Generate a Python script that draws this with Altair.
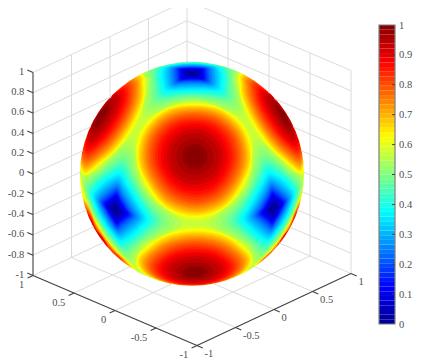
import math
import altair as alt
import pandas as pd

z_ticks = [1, 0.8, 0.6, 0.4, 0.2, 0, -0.2, -0.4, -0.6, -0.8, -1]
z_labels = ["1", "0.8", "0.6", "0.4", "0.2", "0", "-0.2", "-0.4", "-0.6", "-0.8", "-1"]
xy_ticks = [1, 0.5, 0, -0.5, -1]
xy_labels = ["1", "0.5", "0", "-0.5", "-1"]
cb_ticks = [0, 0.1, 0.2, 0.3, 0.4, 0.5, 0.6, 0.7, 0.8, 0.9, 1]
cb_labels = ["0", "0.1", "0.2", "0.3", "0.4", "0.5", "0.6", "0.7", "0.8", "0.9", "1"]

# contour levels around a maximum, and their angular radius (degrees) read off
# the picture toward the saddle, half way, and toward the minimum
peak_levels = [0.58, 0.60, 0.62, 0.64, 0.66, 0.68, 0.70, 0.72, 0.74, 0.76, 0.78, 0.80, 0.82, 0.84, 0.86, 0.88, 0.90, 0.92, 0.94, 0.96, 0.98, 0.99]
peak_r_saddle = [34.2, 33.0, 32.0, 31.2, 30.5, 29.6, 28.8, 27.9, 26.9, 25.9, 24.8, 23.7, 22.4, 21.0, 19.6, 17.9, 16.3, 14.5, 12.3, 9.5, 6.5, 4.5]
peak_r_mid = [32.6, 31.9, 31.2, 30.5, 29.9, 29.1, 28.2, 27.3, 26.4, 25.4, 24.3, 23.2, 22.0, 20.7, 19.4, 17.8, 16.3, 14.5, 12.3, 9.5, 6.5, 4.5]
peak_r_low = [30.9, 30.2, 29.5, 28.9, 28.3, 27.7, 27.0, 26.2, 25.4, 24.5, 23.4, 22.4, 21.2, 20.0, 18.8, 17.5, 16.0, 14.5, 12.3, 9.5, 6.5, 4.5]

# contour levels around a minimum: toward the saddle, half way, toward the maximum
low_levels = [0.55, 0.53, 0.51, 0.49, 0.47, 0.45, 0.43, 0.41, 0.39, 0.37, 0.35, 0.33, 0.31, 0.29, 0.27, 0.25, 0.23, 0.21, 0.19, 0.17, 0.15, 0.13, 0.11, 0.09, 0.07, 0.05, 0.03, 0.015]
low_r_saddle = [38.0, 34.5, 31.5, 29.0, 27.0, 25.5, 24.0, 22.7, 21.4, 20.0, 18.7, 17.5, 16.4, 15.3, 14.2, 13.2, 12.3, 11.5, 10.7, 10.0, 9.3, 8.5, 7.8, 6.9, 6.0, 5.0, 3.7, 2.5]
low_r_mid = [27.0, 25.6, 24.4, 23.2, 22.0, 21.0, 20.0, 19.0, 18.0, 16.9, 15.9, 14.9, 13.9, 12.9, 11.9, 11.0, 10.1, 9.3, 8.5, 7.9, 7.3, 6.7, 6.1, 5.4, 4.8, 4.0, 3.0, 2.0]
low_r_peak = [23.5, 22.6, 21.8, 21.0, 20.2, 19.4, 18.6, 17.8, 17.0, 16.0, 15.0, 14.0, 13.0, 12.0, 11.0, 10.2, 9.4, 8.7, 8.0, 7.4, 6.8, 6.2, 5.6, 5.0, 4.4, 3.6, 2.7, 1.8]
saddle_level = 0.57

peak_signs = [(a, b, c) for a in (1, -1) for b in (1, -1) for c in (1, -1)]
low_axes = [(1, 0, 0), (-1, 0, 0), (0, 1, 0), (0, -1, 0), (0, 0, 1), (0, 0, -1)]

jet_stops = [0, 0.125, 0.375, 0.625, 0.875, 1]
jet_colors = ["#00008f", "#0000ff", "#00ffff", "#ffff00", "#ff0000", "#800000"]

# --- view (page pixels) ------------------------------------------------------
ORIGIN = (192.0, 173.0)
EX, EY, EZ = (-82.0, -35.0), (77.0, -36.0), (0.0, -101.5)
C = (192.0, 173.8)
R = 112.0
k = R / 112.9
NORMAL = (-0.614, -0.653, 0.443)
X0, X1, Y0, Y1 = 8, 420, 8, 360


def box(x, y, z):
    return (ORIGIN[0] + x * EX[0] + y * EY[0] + z * EZ[0],
            ORIGIN[1] + x * EX[1] + y * EY[1] + z * EZ[1])


def dot(a, b):
    return sum(p * q for p, q in zip(a, b))


def unit(a):
    n = math.sqrt(dot(a, a))
    return tuple(p / n for p in a)


def cross(a, b):
    return (a[1] * b[2] - a[2] * b[1], a[2] * b[0] - a[0] * b[2], a[0] * b[1] - a[1] * b[0])


def sphere(q):
    sx = k * (q[0] * EX[0] + q[1] * EY[0] + q[2] * EZ[0])
    sy = k * (q[0] * EX[1] + q[1] * EY[1] + q[2] * EZ[1])
    depth = dot(q, NORMAL)
    if depth < 0:
        n = math.hypot(sx, sy) or 1.0
        sx, sy = sx / n * 125, sy / n * 125
    return C[0] + sx, C[1] + sy, depth


rows = []
pid = [0]


def outline(center, toward, level, r0, r1, r2, step):
    p = unit(center)
    s = unit(toward)
    d = dot(p, s)
    t1 = unit(tuple(a - d * b for a, b in zip(s, p)))
    t2 = cross(p, t1)
    pts = []
    n = int(round(360 / step))
    for i in range(n):
        r = math.radians((r0, r1, r2, r1)[i % 4])
        az = math.radians(i * step)
        q = tuple(math.cos(r) * p[j] + math.sin(r) * (math.cos(az) * t1[j] + math.sin(az) * t2[j]) for j in range(3))
        pts.append(sphere(q))
    if max(q[2] for q in pts) <= 0:
        return
    pid[0] += 1
    for i, q in enumerate(pts):
        rows.append({"pid": pid[0], "i": i, "v": level, "x": q[0], "y": q[1]})


for lev, a, b, c in zip(peak_levels, peak_r_saddle, peak_r_mid, peak_r_low):
    for s in peak_signs:
        outline(s, (s[0], s[1], 0), lev, a, b, c, 30)
for lev, a, b, c in zip(low_levels, low_r_saddle, low_r_mid, low_r_peak):
    for ax in low_axes:
        other = (0, 0, 1) if ax[2] == 0 else (1, 0, 0)
        toward = tuple(p + q for p, q in zip(ax, other))
        outline(ax, toward, lev, a, b, c, 22.5)
surface = pd.DataFrame(rows)

# grid, cut where it goes behind the sphere


def visible(p, q):
    dx, dy = q[0] - p[0], q[1] - p[1]
    fx, fy = p[0] - C[0], p[1] - C[1]
    A = dx * dx + dy * dy
    B = 2 * (fx * dx + fy * dy)
    D = fx * fx + fy * fy - (R - 0.5) ** 2
    disc = B * B - 4 * A * D
    if disc <= 0:
        return [(p, q)]
    s = math.sqrt(disc)
    t1, t2 = (-B - s) / (2 * A), (-B + s) / (2 * A)
    out = []
    if t1 > 0:
        e = min(t1, 1)
        out.append((p, (p[0] + e * dx, p[1] + e * dy)))
    if t2 < 1:
        e = max(t2, 0)
        out.append(((p[0] + e * dx, p[1] + e * dy), q))
    return out


lines3d = []
for z in z_ticks:
    lines3d.append(((1, -1, z), (1, 1, z)))
    lines3d.append(((1, 1, z), (-1, 1, z)))
for t in [0.5, 0, -0.5]:
    lines3d.append(((1, -t, -1), (1, -t, 1)))
    lines3d.append(((t, 1, -1), (t, 1, 1)))
    lines3d.append(((t, -1, -1), (t, 1, -1)))
    lines3d.append(((-1, t, -1), (1, t, -1)))
lines3d.append(((1, 1, -1), (1, 1, 1)))
lines3d.append(((-1, 1, -1), (-1, 1, 1)))

grid_rows = []
for a, b in lines3d:
    for p, q in visible(box(*a), box(*b)):
        grid_rows.append({"x": p[0], "y": p[1], "x2": q[0], "y2": q[1]})
grid = pd.DataFrame(grid_rows)


def seg(p, q):
    return {"x": p[0], "y": p[1], "x2": q[0], "y2": q[1]}


axis_rows = [seg(box(1, -1, -1), box(1, -1, 1)), seg(box(1, -1, -1), box(-1, -1, -1)), seg(box(-1, -1, -1), box(-1, 1, -1))]
label_rows = []
for z, t in zip(z_ticks, z_labels):
    axis_rows.append(seg(box(1, -1, z), box(1.07, -1, z)))
    p = box(1, -1, z)
    label_rows.append({"x": p[0] - 8.7, "y": p[1] - 0.7, "t": t, "a": "r"})
for v, t in zip(xy_ticks, xy_labels):
    axis_rows.append(seg(box(v, -1, -1), box(v, -1.07, -1)))
    axis_rows.append(seg(box(-1, v, -1), box(-1.07, v, -1)))
    p = box(v, -1, -1)
    label_rows.append({"x": p[0] - 8.7, "y": p[1] + 9.5, "t": t, "a": "r"})
    p = box(-1, v, -1)
    label_rows.append({"x": p[0] + 7.5, "y": p[1] + 8, "t": t, "a": "l"})
axes = pd.DataFrame(axis_rows)
labels = pd.DataFrame(label_rows)

# colour bar
CB_L, CB_R, CB_T, CB_B = 379.0, 395.0, 25.0, 324.0


def cb_y(v):
    return CB_B - v * (CB_B - CB_T)


bands = pd.DataFrame([
    {"x": CB_L, "x2": CB_R, "y": cb_y(i / 64), "y2": cb_y((i + 1) / 64), "v": (i + 0.5) / 64}
    for i in range(64)
])
cb_tick = pd.DataFrame([{"x": CB_R - 3, "x2": CB_R, "y": cb_y(v), "y2": cb_y(v)} for v in cb_ticks[1:-1]])
cb_text = pd.DataFrame([{"x": CB_R + 4, "y": cb_y(v) + 0.5, "t": t} for v, t in zip(cb_ticks, cb_labels)])
cb_frame = pd.DataFrame([{"x": CB_L, "x2": CB_R, "y": CB_T, "y2": CB_B}])
centre = pd.DataFrame([{"x": C[0], "y": C[1], "v": saddle_level}])

# --- chart -------------------------------------------------------------------
sx = alt.Scale(domain=[X0, X1], nice=False, zero=False)
sy = alt.Scale(domain=[Y1, Y0], nice=False, zero=False)
sc = alt.Scale(domain=jet_stops, range=jet_colors, interpolate="rgb", clamp=True)
X = alt.X("x:Q", scale=sx, axis=None)
Y = alt.Y("y:Q", scale=sy, axis=None)
COL = alt.Color("v:Q", scale=sc, legend=None)
TAU = 2 * math.pi
FONT = "Times New Roman"
TXT = "#4d4d4d"

disk = alt.Chart(centre).mark_arc(innerRadius=0, outerRadius=R + 1, theta=0, theta2=TAU).encode(x=X, y=Y, color=COL)
polys = alt.Chart(surface).mark_line(filled=True, interpolate="cardinal-closed", strokeWidth=0).encode(
    x=X, y=Y, color=COL, detail="pid:N", order="i:Q")
mask = alt.Chart(centre).mark_arc(innerRadius=R, outerRadius=140, theta=0, theta2=TAU, color="white").encode(x=X, y=Y)
grid_l = alt.Chart(grid).mark_rule(color="#dcdcdc", strokeWidth=1).encode(x=X, y=Y, x2="x2:Q", y2="y2:Q")
axes_l = alt.Chart(axes).mark_rule(color="#404040", strokeWidth=1.1).encode(x=X, y=Y, x2="x2:Q", y2="y2:Q")
text_r = alt.Chart(labels[labels.a == "r"]).mark_text(font=FONT, fontSize=10.5, color=TXT, align="right", baseline="middle").encode(x=X, y=Y, text="t:N")
text_l = alt.Chart(labels[labels.a == "l"]).mark_text(font=FONT, fontSize=10.5, color=TXT, align="left", baseline="middle").encode(x=X, y=Y, text="t:N")
cb_rect = alt.Chart(bands).mark_rect().encode(x=X, x2="x2:Q", y=Y, y2="y2:Q", color=COL)
cb_box = alt.Chart(cb_frame).mark_rect(fillOpacity=0, stroke="#7f7f7f", strokeWidth=1.2).encode(x=X, x2="x2:Q", y=Y, y2="y2:Q")
cb_t = alt.Chart(cb_tick).mark_rule(color="#404040", strokeWidth=1).encode(x=X, x2="x2:Q", y=Y, y2="y2:Q")
cb_s = alt.Chart(cb_text).mark_text(font=FONT, fontSize=10.5, color=TXT, align="left", baseline="middle").encode(x=X, y=Y, text="t:N")

chart = alt.layer(disk, polys, mask, grid_l, axes_l, text_r, text_l, cb_rect, cb_box, cb_t, cb_s).properties(
    width=X1 - X0, height=Y1 - Y0, padding=0, autosize="none", background="white"
).configure_view(stroke=None).configure_text(font=FONT)
chart.save("out.html", embed_options={"renderer": "svg", "actions": False})
